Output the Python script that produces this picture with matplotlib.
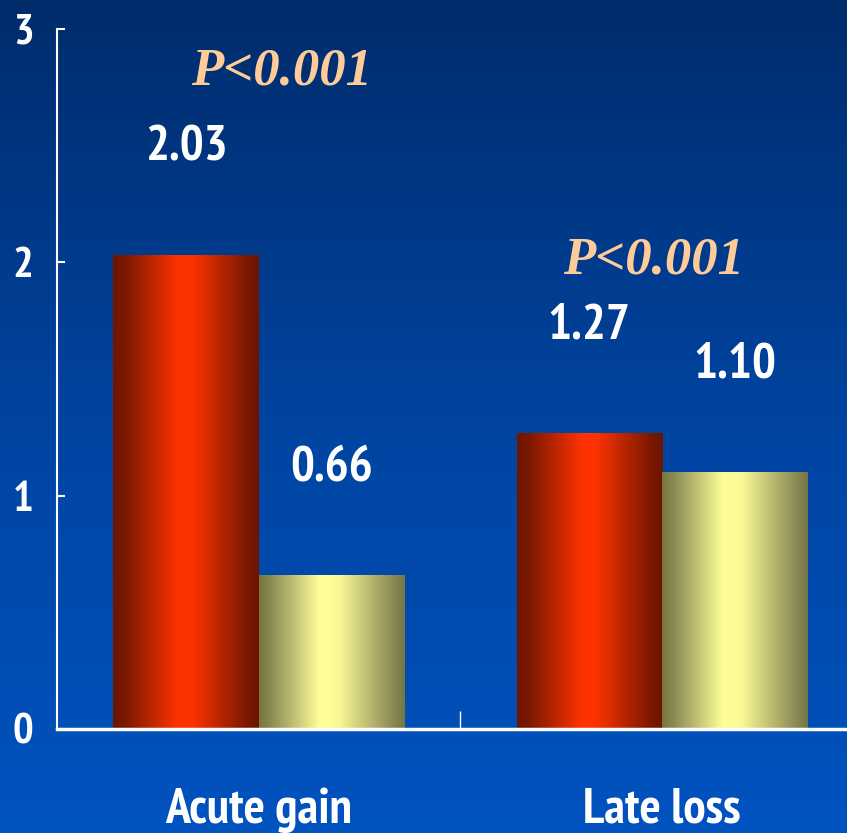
import numpy as np
import matplotlib
matplotlib.use('Agg')
import matplotlib.pyplot as plt
from matplotlib.colors import LinearSegmentedColormap
from matplotlib import font_manager as fm

categories = ['Acute gain', 'Late loss']
series_a = [2.03, 1.27]   # red bars
series_b = [0.66, 1.10]   # yellow bars
labels_a = ['2.03', '1.27']
labels_b = ['0.66', '1.10']
p_labels = ['P<0.001', 'P<0.001']
yticks = [0, 1, 2, 3]

SERIF = ['Liberation Serif', 'DejaVu Serif']


def pick_narrow_bold():
    prefs = [
        ('narrow', 'bold'),
        ('extracondensedbold', None),
        ('extracondensed-bold', None),
        ('condensedbold', None),
        ('condensed-bold', None),
        ('condensed', 'bold'),
    ]
    files = [f.fname for f in fm.fontManager.ttflist]
    for key, extra in prefs:
        for fn in files:
            low = fn.lower().replace(' ', '')
            base = low.rsplit('/', 1)[-1]
            if key not in base:
                continue
            if extra and extra not in base:
                continue
            if any(b in base for b in ('extrabold', 'semibold', 'black', 'italic',
                                        'oblique', 'mono', 'serif', 'light')):
                continue
            if 'bold' not in base:
                continue
            return fn
    return None


narrow = pick_narrow_bold()
if narrow is not None:
    SANS_FP = dict(fname=narrow)
else:
    SANS_FP = dict(family=['Liberation Sans', 'DejaVu Sans'], weight='bold')


def sans(size):
    return fm.FontProperties(size=size, **SANS_FP)


W, H = 847, 833
fig = plt.figure(figsize=(W / 100, H / 100), dpi=100)

# background gradient
bg = fig.add_axes([0, 0, 1, 1], zorder=0)
bg_cmap = LinearSegmentedColormap.from_list('bg', ['#002C6C', '#0044A0', '#0053C0'])
grad = np.linspace(0, 1, 256).reshape(-1, 1)
bg.imshow(grad, aspect='auto', cmap=bg_cmap, extent=[0, 1, 0, 1], origin='upper')
bg.set_axis_off()

ax = fig.add_axes([57 / W, 104 / H, (863.5 - 57) / W, 700 / H], zorder=1)
ax.set_facecolor('none')

red_cmap = LinearSegmentedColormap.from_list(
    'red', [(0, '#6E1500'), (0.08, '#7A1800'), (0.45, '#FF3300'), (0.55, '#FA3200'),
            (0.92, '#7A1800'), (1, '#6C1400')])
yel_cmap = LinearSegmentedColormap.from_list(
    'yel', [(0, '#76763F'), (0.08, '#8A8A55'), (0.42, '#FFFF99'), (0.55, '#F8F896'),
            (0.92, '#8A8A55'), (1, '#767646')])

x = np.arange(len(categories))
w = 0.36
bars_a = ax.bar(x - w / 2, series_a, w, facecolor='none', edgecolor='none', zorder=2)
bars_b = ax.bar(x + w / 2, series_b, w, facecolor='none', edgecolor='none', zorder=2)

hgrad = np.linspace(0, 1, 256).reshape(1, -1)
for bars, cmap in ((bars_a, red_cmap), (bars_b, yel_cmap)):
    for b in bars:
        x0, y0 = b.get_x(), b.get_y()
        bw, bh = b.get_width(), b.get_height()
        im = ax.imshow(hgrad, aspect='auto', cmap=cmap,
                       extent=[x0, x0 + bw, y0, y0 + bh], zorder=2)
        im.set_clip_path(b)

# value labels
value_texts = []
for bars, labs in ((bars_a, labels_a), (bars_b, labels_b)):
    for b, t in zip(bars, labs):
        value_texts.append(ax.annotate(
            t, xy=(b.get_x() + b.get_width() / 2, b.get_height()),
            xytext=(0, 77), textcoords='offset points',
            ha='center', va='center', color='white',
            fontproperties=sans(44)))

# p-value labels
ax.text(0.057, 2.82, p_labels[0], ha='center', va='center', color='#FFCC99',
        fontsize=38, style='italic', fontweight='bold', family=SERIF)
ax.text(0.98, 2.01, p_labels[1], ha='center', va='center', color='#FFCC99',
        fontsize=38, style='italic', fontweight='bold', family=SERIF)

ax.set_xlim(-0.5, 1.5)
ax.set_ylim(0, 3)

for s in ('top', 'right'):
    ax.spines[s].set_visible(False)
ax.spines['left'].set_color('white')
ax.spines['left'].set_linewidth(1.5)
ax.spines['bottom'].set_color('white')
ax.spines['bottom'].set_linewidth(2.5)

ax.set_yticks(yticks)
ax.set_yticklabels([str(t) for t in yticks])
ax.tick_params(axis='y', direction='in', length=6, width=1.5, colors='white', pad=17)
for lbl in ax.get_yticklabels():
    lbl.set_fontproperties(sans(31))

ax.set_xticks(x)
ax.set_xticklabels(categories)
ax.set_xticks([0.5], minor=True)
ax.tick_params(axis='x', which='major', length=0, colors='white', pad=42)
ax.tick_params(axis='x', which='minor', direction='in', length=13, width=1, colors='white')
for lbl in ax.get_xticklabels():
    lbl.set_fontproperties(sans(36))

# fit sans text sizes: target widths (px) with a cap from the glyph height
fig.canvas.draw()
renderer = fig.canvas.get_renderer()


def fit(texts, ref_text, target_w, max_size, slack=1.12):
    ext = ref_text.get_window_extent(renderer)
    size = ref_text.get_fontsize()
    new = min(max_size, size * target_w * slack / ext.width)
    for t in texts:
        t.set_fontproperties(sans(new))


fit(value_texts, value_texts[0], 74, 45)
fit(ax.get_xticklabels(), ax.get_xticklabels()[0], 167, 37)
fit(ax.get_yticklabels(), ax.get_yticklabels()[0], 16, 32, slack=1.3)

fig.savefig('out.png', dpi=100)
